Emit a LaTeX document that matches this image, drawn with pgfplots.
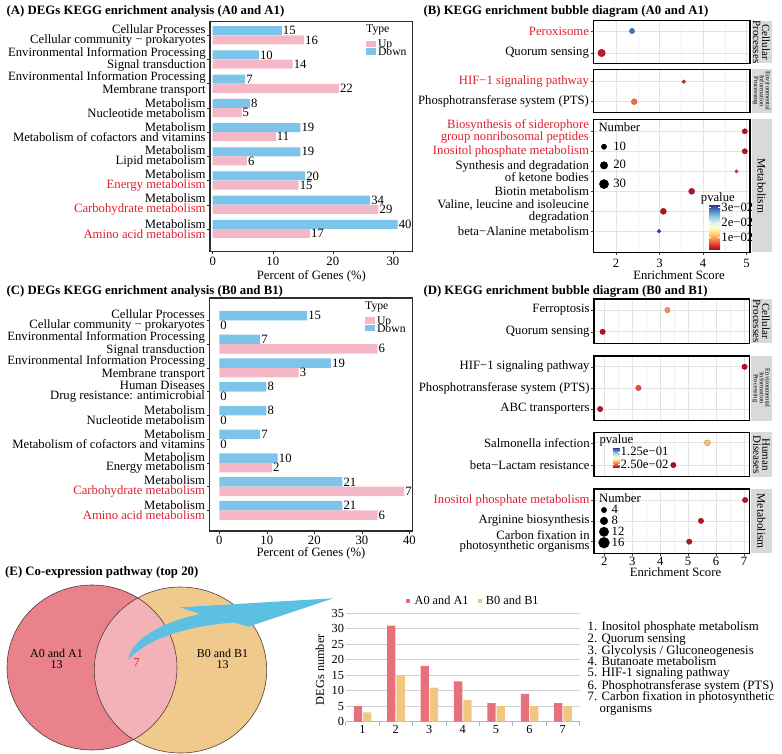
\documentclass[border=0pt]{standalone}
\usepackage{fontspec}
\setmainfont{Liberation Serif}
\usepackage{pgfplots}
\usepackage{pgfplotstable}
\pgfplotsset{compat=1.18}

\definecolor{upc}{RGB}{244,183,197}
\definecolor{downc}{RGB}{125,196,235}
\definecolor{redlab}{RGB}{225,30,45}
\definecolor{frame}{RGB}{45,45,45}
\definecolor{stripc}{RGB}{217,217,217}
\definecolor{vennA}{RGB}{233,130,138}
\definecolor{vennB}{RGB}{240,202,140}
\definecolor{vennAB}{RGB}{243,178,184}
\definecolor{vennline}{RGB}{80,60,55}
\definecolor{barA}{RGB}{232,112,122}
\definecolor{barB}{RGB}{240,198,128}
\definecolor{arrowc}{RGB}{92,192,226}
\definecolor{axblue}{RGB}{170,185,205}

\newcommand{\fs}{\fontsize{12.7}{9.6}\selectfont}
\newcommand{\fl}{\fontsize{11.7}{12}\selectfont}
\newcommand{\fe}{\fontsize{12.3}{11.7}\selectfont}
\newcommand{\ft}{\bfseries\fontsize{12.8}{14}\selectfont}
\newcommand{\R}[1]{\textcolor{redlab}{#1}}

\pgfplotstableread{
i p n
1 11.5 15
2 7.7 10
3 5.4 7
4 6.2 8
5 14.6 19
6 14.6 19
7 15.4 20
8 26.2 34
9 30.8 40
}\Adown
\pgfplotstableread{
i p n
1 15.2 16
2 13.3 14
3 21.0 22
4 4.8 5
5 10.5 11
6 5.7 6
7 14.3 15
8 27.6 29
9 16.2 17
}\Aup
\pgfplotstableread{
i p n
1 18.5 15
2 8.6 7
3 23.5 19
4 9.9 8
5 9.9 8
6 8.6 7
7 12.3 10
8 25.9 21
9 25.9 21
}\Cdown
\pgfplotstableread{
i p n
1 0 0
2 33.3 6
3 16.7 3
4 0 0
5 0 0
6 0 0
7 11.1 2
8 38.9 7
9 33.3 6
}\Cup
\pgfplotstableread{
es i n p
2.37 1 10 0.0285
1.67 2 20 0.0033
}\Bfa
\pgfplotstableread{
es i n p
3.56 1 5 0.0048
2.42 2 12 0.0077
}\Bfb
\pgfplotstableread{
es i n p
4.96 1 10 0.0030
4.96 2 10 0.0030
4.77 3 4 0.0054
3.74 4 13 0.0030
3.09 5 13 0.0030
2.99 6 5 0.0310
}\Bfc
\pgfplotstableread{
es i n p
4.26 1 4 0.039
1.94 2 4 0.005
}\Dfa
\pgfplotstableread{
es i n p
7.02 1 4 0.005
3.22 2 4 0.024
1.85 3 4 0.005
}\Dfb
\pgfplotstableread{
es i n p
5.69 1 5 0.052
4.47 2 4 0.005
}\Dfc
\pgfplotstableread{
es i n p
7.04 1 4 0.006
5.46 2 4 0.006
5.04 3 4 0.006
}\Dfd
\pgfplotstableread{
c a b
1 5 3
2 31 15
3 18 11
4 13 7
5 6 5
6 9 5
7 6 5
}\Edata

\pgfplotsset{
  colormap={rdylbu}{rgb255=(165,0,38) rgb255=(215,48,39) rgb255=(244,109,67) rgb255=(253,174,97) rgb255=(254,224,144) rgb255=(255,255,191) rgb255=(224,243,248) rgb255=(171,217,233) rgb255=(116,173,209) rgb255=(69,117,180) rgb255=(49,54,149)},
  barpanel/.style={
    scale only axis, anchor=north west, y dir=reverse, clip=false,
    axis line style={frame, line width=1.2pt},
    tick align=outside, major tick length=2.7pt,
    every tick/.style={frame, line width=0.5pt},
    xtick pos=bottom, ytick pos=left, ytick={1,...,9},
    ticklabel style={font=\fs},
    yticklabel style={align=right, font=\fs, inner sep=1.5pt},
    xticklabel style={inner sep=1pt, yshift=-1.5pt},
    label style={font=\fs},
    /pgf/number format/assume math mode=true,
    legend image code/.code={\fill[##1, draw=none] (0pt,-3.2pt) rectangle (10pt,3.2pt);},
    legend cell align=left,
    every node near coord/.append style={font=\fs, inner sep=1pt, anchor=west},
  },
  bub/.style={
    scale only axis, anchor=north west, y dir=reverse, clip=false,
    axis line style={black, line width=1.1pt},
    tick align=outside, major tick length=2.7pt, minor tick length=0pt,
    every tick/.style={black!75, line width=0.5pt},
    xmajorgrids, xminorgrids, ymajorgrids, minor x tick num=1,
    major grid style={black!11, line width=0.6pt},
    minor grid style={black!5, line width=0.35pt},
    xtick pos=bottom, ytick pos=left,
    ticklabel style={font=\fs},
    yticklabel style={align=right, font=\fs, inner sep=1.5pt},
    xticklabel style={inner sep=1pt},
    label style={font=\fs},
    colormap name=rdylbu,
    /pgf/number format/assume math mode=true,
  },
  bubtop/.style={xticklabels={}, xtick style={draw=none}},
  bubB/.style={xmin=1.48, xmax=5.08, xtick={2,3,4,5}, point meta min=0.0018, point meta max=0.0315},
  bubD/.style={xmin=1.63, xmax=7.19, xtick={2,...,7}, point meta min=0, point meta max=0.157},
  sctB/.style={scatter, only marks, mark=*, scatter src=explicit, forget plot,
    visualization depends on={0.84*sqrt(\thisrow{n}) \as \rad},
    scatter/@pre marker code/.append style={/tikz/mark size=\rad}},
  sctD/.style={scatter, only marks, mark=*, scatter src=explicit, forget plot,
    visualization depends on={1.35*sqrt(\thisrow{n}) \as \rad},
    scatter/@pre marker code/.append style={/tikz/mark size=\rad}},
}

\begin{document}
\begin{tikzpicture}[x=1pt,y=1pt]
\useasboundingbox (0,0) rectangle (782,-754);

% ---------- titles
\node[anchor=base west, font=\ft, inner sep=0pt] at (6.5,-14.2) {(A) DEGs KEGG enrichment analysis (A0 and A1)};
\node[anchor=base west, font=\ft, inner sep=0pt] at (423.3,-14.2) {(B) KEGG enrichment bubble diagram (A0 and A1)};
\node[anchor=base west, font=\ft, inner sep=0pt] at (6.5,-294.2) {(C) DEGs KEGG enrichment analysis (B0 and B1)};
\node[anchor=base west, font=\ft, inner sep=0pt] at (423.3,-294.2) {(D) KEGG enrichment bubble diagram (B0 and B1)};
\node[anchor=base west, font=\ft, inner sep=0pt] at (5,-575) {(E) Co-expression pathway (top 20)};

% ---------- panel A
\begin{axis}[barpanel, at={(210pt,-21.3pt)}, width=202.7pt, height=230.4pt,
  xmin=-0.45, xmax=33.3, ymin=0.42, ymax=9.94, xtick={0,10,20,30},
  yticklabels={
    {Cellular Processes\\Cellular community − prokaryotes},
    {Environmental Information Processing\\Signal transduction},
    {Environmental Information Processing\\Membrane transport},
    {Metabolism\\Nucleotide metabolism},
    {Metabolism\\Metabolism of cofactors and vitamins},
    {Metabolism\\Lipid metabolism},
    {Metabolism\\\R{Energy metabolism}},
    {Metabolism\\\R{Carbohydrate metabolism}},
    {Metabolism\\\R{Amino acid metabolism}}},
  xlabel={Percent of Genes (\%)},
  xlabel style={at={(axis description cs:0.5,0)}, anchor=center, yshift=-25pt},
  legend style={at={(axis description cs:0.7696,0.918)}, anchor=north west, draw=none, fill=none,
    inner sep=0pt, outer sep=0pt, row sep=0pt, column sep=2pt, font=\fl,
    nodes={inner sep=0pt, text height=7.6pt, text depth=0pt}},
]
\addplot[xbar, bar width=9pt, bar shift=0pt, fill=downc, draw=none, forget plot,
  nodes near coords, point meta=explicit symbolic]
  table[x=p, y expr=\thisrow{i}-0.19, meta=n] {\Adown};
\addplot[xbar, bar width=9pt, bar shift=0pt, fill=upc, draw=none, forget plot,
  nodes near coords, point meta=explicit symbolic]
  table[x=p, y expr=\thisrow{i}+0.19, meta=n] {\Aup};
\addlegendimage{fill=upc}\addlegendentry{Up}
\addlegendimage{fill=downc}\addlegendentry{Down}
\end{axis}
\node[anchor=west, font=\fl, inner sep=0pt] at (366,-30) {Type};

% ---------- panel C
\begin{axis}[barpanel, at={(209.3pt,-298pt)}, width=203.4pt, height=233pt,
  xmin=-2.1, xmax=40.7, ymin=0.06, ymax=9.87, xtick={0,10,20,30,40},
  yticklabels={
    {Cellular Processes\\Cellular community − prokaryotes},
    {Environmental Information Processing\\Signal transduction},
    {Environmental Information Processing\\Membrane transport},
    {Human Diseases\\Drug resistance: antimicrobial},
    {Metabolism\\Nucleotide metabolism},
    {Metabolism\\Metabolism of cofactors and vitamins},
    {Metabolism\\Energy metabolism},
    {Metabolism\\\R{Carbohydrate metabolism}},
    {Metabolism\\\R{Amino acid metabolism}}},
  xlabel={Percent of Genes (\%)},
  xlabel style={at={(axis description cs:0.5,0)}, anchor=center, yshift=-22.3pt},
  legend style={at={(axis description cs:0.7655,0.919)}, anchor=north west, draw=none, fill=none,
    inner sep=0pt, outer sep=0pt, row sep=0pt, column sep=2pt, font=\fl,
    nodes={inner sep=0pt, text height=7.6pt, text depth=0pt}},
]
\addplot[xbar, bar width=9.4pt, bar shift=0pt, fill=downc, draw=none, forget plot,
  nodes near coords, point meta=explicit symbolic]
  table[x=p, y expr=\thisrow{i}-0.2, meta=n] {\Cdown};
\addplot[xbar, bar width=9.4pt, bar shift=0pt, fill=upc, draw=none, forget plot,
  nodes near coords, point meta=explicit symbolic]
  table[x=p, y expr=\thisrow{i}+0.2, meta=n] {\Cup};
\addlegendimage{fill=upc}\addlegendentry{Up}
\addlegendimage{fill=downc}\addlegendentry{Down}
\end{axis}
\node[anchor=west, font=\fl, inner sep=0pt] at (365,-307) {Type};

% ---------- panel B facets
\begin{axis}[bub, bubB, bubtop, at={(593.3pt,-20.7pt)}, width=156.7pt, height=42.6pt,
  ymin=0.53, ymax=2.47, ytick={1,2},
  yticklabels={\R{Peroxisome}, Quorum sensing}]
\addplot[sctB] table[x=es, y=i, meta=p] {\Bfa};
\end{axis}
\begin{axis}[bub, bubB, bubtop, at={(593.3pt,-69.3pt)}, width=156.7pt, height=43.4pt,
  ymin=0.38, ymax=2.55, ytick={1,2},
  yticklabels={\R{HIF−1 signaling pathway}, Phosphotransferase system (PTS)}]
\addplot[sctB] table[x=es, y=i, meta=p] {\Bfb};
\end{axis}
\begin{axis}[bub, bubB, at={(593.3pt,-119.3pt)}, width=156.7pt, height=133.2pt,
  ymin=0.4, ymax=7.06, ytick={1,...,6},
  xticklabel style={yshift=-3pt},
  yticklabels={{\R{Biosynthesis of siderophore}\\\R{group nonribosomal peptides}},
    \R{Inositol phosphate metabolism},
    {Synthesis and degradation\\of ketone bodies},
    Biotin metabolism,
    {Valine, leucine and isoleucine\\degradation},
    beta−Alanine metabolism},
  xlabel={Enrichment Score},
  xlabel style={at={(axis description cs:0.547,0)}, anchor=center, yshift=-23pt},
  colorbar,
  colorbar style={at={(parent axis.south west)}, anchor=south west, xshift=107.4pt, yshift=2.5pt,
    scale only axis, width=11pt, height=45pt, y dir=normal, grid=none, scaled y ticks=false,
    ytick={0.01,0.02,0.03}, yticklabels={1e−02,2e−02,3e−02}, yticklabel pos=right, ytick pos=both,
    yticklabel style={font=\fs, inner sep=1pt}, axis line style={draw=none},
    tick align=inside, major tick length=2pt, every tick/.style={white, line width=0.5pt}},
  legend image code/.code={\path[draw=none] (-4.7pt,-9.35pt) rectangle (4.7pt,9.35pt); \draw[#1, draw=none] plot coordinates {(0pt,0pt)};},
  legend style={at={(axis description cs:0.0383,0.8645)}, anchor=north west, draw=none, fill=none,
    inner sep=0pt, outer sep=0pt, row sep=0pt, column sep=4.6pt, font=\fs,
    nodes={inner sep=0pt, text height=7pt, text depth=0pt}},
  legend cell align=left,
]
\addplot[sctB] table[x=es, y=i, meta=p] {\Bfc};
\addlegendimage{only marks, mark=*, black, mark size=2.66pt}\addlegendentry{10}
\addlegendimage{only marks, mark=*, black, mark size=3.76pt}\addlegendentry{20}
\addlegendimage{only marks, mark=*, black, mark size=4.6pt}\addlegendentry{30}
\end{axis}
\node[anchor=west, font=\fs, inner sep=0pt] at (598.3,-127.3) {Number};
\node[anchor=west, font=\fs, inner sep=0pt] at (700.7,-198.3) {pvalue};
% strips B
\fill[stripc] (751.5,-20.7) rectangle (771.5,-63.3);
\fill[stripc] (751.5,-69.3) rectangle (771.5,-112.7);
\fill[stripc] (751.5,-119.3) rectangle (771.5,-252.5);
\node[rotate=-90, align=center, font=\fontsize{11}{9}\selectfont, inner sep=0pt] at (761.5,-42) {Cellular\\Processes};
\node[rotate=-90, align=center, font=\fontsize{6.5}{5.8}\selectfont, inner sep=0pt] at (761.5,-91) {Environmental\\Information\\Processing};
\node[rotate=-90, font=\fontsize{11.5}{12}\selectfont, inner sep=0pt] at (761.5,-185.9) {Metabolism};

% ---------- panel D facets
\begin{axis}[bub, bubD, bubtop, at={(594pt,-299pt)}, width=155.3pt, height=44.3pt,
  ymin=0.49, ymax=2.53, ytick={1,2},
  yticklabels={Ferroptosis, Quorum sensing}]
\addplot[sctD] table[x=es, y=i, meta=p] {\Dfa};
\end{axis}
\begin{axis}[bub, bubD, bubtop, at={(594pt,-356pt)}, width=155.3pt, height=64.7pt,
  ymin=0.49, ymax=3.55, ytick={1,2,3},
  yticklabels={HIF−1 signaling pathway, Phosphotransferase system (PTS), ABC transporters}]
\addplot[sctD] table[x=es, y=i, meta=p] {\Dfb};
\end{axis}
\begin{axis}[bub, bubD, bubtop, at={(594pt,-432.3pt)}, width=155.3pt, height=44.4pt,
  ymin=0.53, ymax=2.52, ytick={1,2},
  yticklabels={Salmonella infection, beta−Lactam resistance},
  colorbar,
  colorbar style={at={(parent axis.south west)}, anchor=south west, xshift=10.3pt, yshift=9pt,
    scale only axis, width=6.7pt, height=20pt, y dir=normal, grid=none, scaled y ticks=false,
    ytick={0.025,0.125}, yticklabels={2.50e−02,1.25e−01}, yticklabel pos=right, ytick pos=both,
    yticklabel style={font=\fs, inner sep=1pt}, axis line style={draw=none},
    tick align=inside, major tick length=1.5pt, every tick/.style={white, line width=0.5pt}},
]
\addplot[sctD] table[x=es, y=i, meta=p] {\Dfc};
\end{axis}
\begin{axis}[bub, bubD, at={(594pt,-489pt)}, width=155.3pt, height=64.3pt,
  ymin=0.47, ymax=3.56, ytick={1,2,3},
  yticklabels={\R{Inositol phosphate metabolism}, Arginine biosynthesis, {Carbon fixation in\\photosynthetic organisms}},
  xlabel={Enrichment Score},
  xlabel style={at={(axis description cs:0.525,0)}, anchor=center, yshift=-18.4pt},
  legend image code/.code={\path[draw=none] (-5.4pt,-5.45pt) rectangle (5.4pt,5.45pt); \draw[#1, draw=none] plot coordinates {(0pt,0pt)};},
  legend style={at={(axis description cs:0.0296,0.758)}, anchor=north west, draw=none, fill=none,
    inner sep=0pt, outer sep=0pt, row sep=0pt, column sep=2.3pt, font=\fs,
    nodes={inner sep=0pt, text height=7pt, text depth=0pt}},
  legend cell align=left,
]
\addplot[sctD] table[x=es, y=i, meta=p] {\Dfd};
\addlegendimage{only marks, mark=*, black, mark size=2.7pt}\addlegendentry{4}
\addlegendimage{only marks, mark=*, black, mark size=3.82pt}\addlegendentry{8}
\addlegendimage{only marks, mark=*, black, mark size=4.68pt}\addlegendentry{12}
\addlegendimage{only marks, mark=*, black, mark size=5.4pt}\addlegendentry{16}
\end{axis}
\node[anchor=west, font=\fs, inner sep=0pt] at (599,-498.3) {Number};
\node[anchor=west, font=\fs, inner sep=0pt] at (599.3,-440.7) {pvalue};
% strips D
\fill[stripc] (751,-299) rectangle (771.5,-343.3);
\fill[stripc] (751,-356) rectangle (771.5,-420.7);
\fill[stripc] (751,-432.3) rectangle (771.5,-476.7);
\fill[stripc] (751,-489) rectangle (771.5,-553.3);
\node[rotate=-90, align=center, font=\fontsize{11}{9}\selectfont, inner sep=0pt] at (761.3,-321.2) {Cellular\\Processes};
\node[rotate=-90, align=center, font=\fontsize{6.5}{5.8}\selectfont, inner sep=0pt] at (761.3,-388.3) {Environmental\\Information\\Processing};
\node[rotate=-90, align=center, font=\fontsize{11}{9}\selectfont, inner sep=0pt] at (761.3,-454.5) {Human\\Diseases};
\node[rotate=-90, font=\fontsize{11.5}{12}\selectfont, inner sep=0pt] at (761.3,-521.2) {Metabolism};

% ---------- panel E : Venn
\fill[vennA] (92,-667.5) ellipse [x radius=85, y radius=82.5];
\fill[vennB] (180.5,-670) ellipse [x radius=86.2, y radius=83];
\begin{scope}
  \clip (92,-667.5) ellipse [x radius=85, y radius=82.5];
  \fill[vennAB] (180.5,-670) ellipse [x radius=86.2, y radius=83];
\end{scope}
\draw[vennline, line width=0.6pt] (92,-667.5) ellipse [x radius=85, y radius=82.5];
\draw[vennline, line width=0.6pt] (180.5,-670) ellipse [x radius=86.2, y radius=83];
\node[font=\fontsize{12}{12}\selectfont, inner sep=0pt] at (56.5,-653.3) {A0 and A1};
\node[font=\fontsize{12}{12}\selectfont, inner sep=0pt] at (56.5,-665) {13};
\node[font=\fontsize{12}{12}\selectfont, inner sep=0pt, text=redlab] at (136.7,-663) {7};
\node[font=\fontsize{12}{12}\selectfont, inner sep=0pt] at (222.5,-653.3) {B0 and B1};
\node[font=\fontsize{12}{12}\selectfont, inner sep=0pt] at (222.5,-665) {13};
% arrow
\fill[arrowc] (128.3,-660) .. controls (130,-645) and (150,-625) .. (200,-614)
  -- (180,-607.3) -- (333.3,-598.3) -- (248.3,-626.7) -- (234,-622.5)
  .. controls (185,-626) and (145,-640) .. (128.3,-660) -- cycle;

% ---------- panel E : bars
\begin{axis}[at={(345.7pt,-613.3pt)}, anchor=north west, scale only axis, width=233.8pt, height=108.4pt,
  xmin=0.5, xmax=7.5, ymin=0, ymax=35, ytick={0,5,...,35}, xtick={1,...,7},
  axis lines=left, axis line style={-}, x axis line style={axblue, line width=0.8pt}, y axis line style={draw=none},
  ymajorgrids, major grid style={black!18, line width=0.6pt},
  major tick length=0pt,
  extra x ticks={0.5,1.5,...,7.5}, extra x tick labels={},
  extra x tick style={major tick length=4pt, tick align=outside, tick style={axblue, line width=0.6pt}},
  ticklabel style={font=\fe}, yticklabel style={inner sep=1.5pt},
  /pgf/number format/assume math mode=true,
  ylabel={DEGs number}, ylabel style={font=\fe, at={(axis description cs:-0.11,0.48)}, anchor=center},
  legend image code/.code={\fill[#1, draw=none] (0pt,-2pt) rectangle (4pt,2pt);},
  legend columns=2,
  legend style={at={(axis description cs:0.258,1.118)}, anchor=west, draw=none, fill=none, inner sep=0pt,
    font=\fe, column sep=2.4pt, /tikz/every even column/.append style={column sep=7pt}},
]
\addplot[ybar, bar width=8.3pt, bar shift=-4.5pt, fill=barA, draw=none] table[x=c, y=a] {\Edata};
\addlegendentry{A0 and A1}
\addplot[ybar, bar width=8.3pt, bar shift=4.8pt, fill=barB, draw=none] table[x=c, y=b] {\Edata};
\addlegendentry{B0 and B1}
\end{axis}

% ---------- panel E : list
\begin{scope}[every node/.style={anchor=base west, font=\fontsize{12.8}{11.7}\selectfont, inner sep=0pt}]
\node at (587.5,-630) {1. Inositol phosphate metabolism};
\node at (587.5,-642.3) {2. Quorum sensing};
\node at (587.5,-654) {3. Glycolysis / Gluconeogenesis};
\node at (587.5,-665) {4. Butanoate metabolism};
\node at (587.5,-676.7) {5. HIF-1 signaling pathway};
\node at (587.5,-689) {6. Phosphotransferase system (PTS)};
\node at (587.5,-700.7) {7. Carbon fixation in photosynthetic};
\node at (599.5,-712.3) {organisms};
\end{scope}
\end{tikzpicture}
\end{document}
